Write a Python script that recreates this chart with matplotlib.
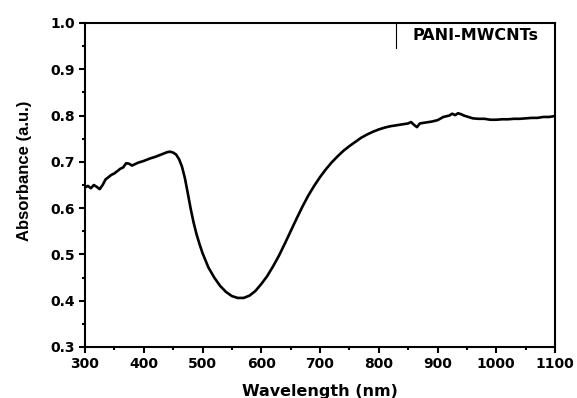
import matplotlib
matplotlib.use("Agg")
import matplotlib.pyplot as plt
from matplotlib.ticker import MultipleLocator

plt.rcParams['font.family'] = ['DejaVu Sans']
plt.rcParams['font.weight'] = 'bold'

wavelength = [300, 305, 310, 315, 320, 325, 330, 335, 340, 345, 350, 355, 360, 365, 370,
              375, 380, 385, 390, 400, 410, 420, 430, 440, 445, 450, 455, 460, 465, 470,
              475, 480, 485, 490, 495, 500, 510, 520, 530, 540, 550, 560, 570, 580, 590,
              600, 610, 620, 630, 640, 650, 660, 670, 680, 690, 700, 710, 720, 730, 740,
              750, 760, 770, 780, 790, 800, 810, 820, 830, 840, 850, 855, 860, 865, 870,
              880, 890, 900, 910, 920, 925, 930, 935, 940, 945, 950, 960, 970, 980, 990,
              1000, 1010, 1020, 1030, 1040, 1050, 1060, 1070, 1080, 1090, 1100]
absorbance = [0.645, 0.648, 0.643, 0.650, 0.646, 0.641, 0.650, 0.662, 0.667, 0.672, 0.675,
              0.680, 0.685, 0.688, 0.697, 0.696, 0.692, 0.695, 0.698, 0.702, 0.707, 0.711,
              0.716, 0.721, 0.722, 0.720, 0.716, 0.706, 0.690, 0.665, 0.632, 0.598, 0.568,
              0.543, 0.522, 0.503, 0.472, 0.450, 0.432, 0.419, 0.410, 0.406, 0.406, 0.411,
              0.421, 0.436, 0.453, 0.474, 0.497, 0.523, 0.550, 0.577, 0.603, 0.627, 0.648,
              0.667, 0.684, 0.699, 0.712, 0.724, 0.734, 0.743, 0.752, 0.759, 0.765, 0.770,
              0.774, 0.777, 0.779, 0.781, 0.783, 0.786, 0.780, 0.775, 0.783, 0.785, 0.787,
              0.790, 0.797, 0.800, 0.804, 0.801, 0.805, 0.803, 0.800, 0.798, 0.794, 0.793,
              0.793, 0.791, 0.791, 0.792, 0.792, 0.793, 0.793, 0.794, 0.795, 0.795, 0.797,
              0.797, 0.799]
sample_label = 'PANI-MWCNTs'

fig = plt.figure(figsize=(5.77, 3.98), dpi=100)
ax = fig.add_axes([85/577, 1 - 347/398, 470/577, 324/398])

ax.plot(wavelength, absorbance, color='black', lw=1.9)

ax.set_xlim(300, 1100)
ax.set_ylim(0.3, 1.0)
ax.xaxis.set_major_locator(MultipleLocator(100))
ax.xaxis.set_minor_locator(MultipleLocator(50))
ax.yaxis.set_major_locator(MultipleLocator(0.1))
ax.yaxis.set_minor_locator(MultipleLocator(0.05))
ax.yaxis.set_major_formatter(plt.FuncFormatter(lambda v, p: f"{v:.1f}"))

ax.tick_params(which='both', direction='out', top=False, right=False,
               labelsize=10, width=1.5, pad=3)
ax.tick_params(which='major', length=4.5)
ax.tick_params(which='minor', length=2.5)
for s in ax.spines.values():
    s.set_linewidth(1.5)

ax.set_xlabel('Wavelength (nm)', fontsize=11.5, fontweight='bold', labelpad=9)
ax.set_ylabel('Absorbance (a.u.)', fontsize=12, fontweight='bold',
              family='Liberation Sans')
ax.yaxis.set_label_coords(-0.112, 0.544)

# label box in the top right corner
ax.axvline(829, ymin=0.924, ymax=1.0, color='black', lw=0.8)
ax.text(0.83, 0.961, sample_label, transform=ax.transAxes, ha='center', va='center',
        fontsize=11.5, fontweight='bold')

fig.savefig('out.png', dpi=100)
